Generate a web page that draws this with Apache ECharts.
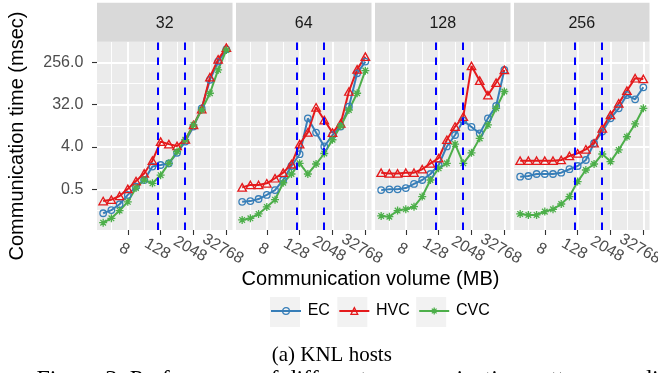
<!DOCTYPE html>
<html>
<head>
<meta charset="utf-8">
<script src="https://cdn.jsdelivr.net/npm/echarts@6/dist/echarts.min.js"></script>
<style>
  html, body { margin: 0; padding: 0; background: #ffffff; }
  #chart { width: 658px; height: 373px; }
</style>
</head>
<body>
<div id="chart"></div>
<script>
// Communication volume (MB) of each measured point
const volumeMB = [1, 2, 4, 8, 16, 32, 64, 128, 256, 512, 1024, 2048, 4096, 8192, 16384, 32768];
const hostCounts = [32, 64, 128, 256];
const volumeTicks = [8, 128, 2048, 32768];
const timeTicks = [0.5, 4, 32, 256];
const thresholdMB = [100, 1000];
const strategyNames = ['EC', 'HVC', 'CVC'];

// Communication time (msec) for 32 hosts
const ec32  = [0.154, 0.18, 0.24, 0.38, 0.57, 0.79, 1.53, 1.65, 1.79, 3.0, 5.2, 10.9, 26.7, 108, 265, 484];
const hvc32 = [0.28, 0.30, 0.36, 0.51, 0.75, 1.09, 2.04, 5.2, 4.6, 4.2, 5.8, 11.8, 25.8, 123, 296, 526];
const cvc32 = [0.097, 0.12, 0.176, 0.27, 0.53, 0.79, 0.67, 1.0, 1.79, 3.2, 5.7, 11.8, 24.6, 56, 176, 468];

// Communication time (msec) for 64 hosts
const ec64  = [0.27, 0.28, 0.31, 0.38, 0.48, 0.79, 1.57, 2.8, 16.3, 8.1, 4.1, 7.2, 10.9, 29, 149, 265];
const hvc64 = [0.55, 0.62, 0.62, 0.67, 0.86, 1.13, 1.73, 4.6, 8.2, 28.1, 15.0, 8.1, 12.8, 61, 181, 338];
const cvc64 = [0.111, 0.12, 0.149, 0.21, 0.30, 0.69, 1.06, 1.79, 1.06, 1.73, 2.9, 5.7, 11.2, 24.6, 56, 170];

// Communication time (msec) for 128 hosts
const ec128  = [0.48, 0.5, 0.5, 0.53, 0.65, 0.79, 1.06, 1.65, 4.1, 7.2, 14.6, 10.7, 7.8, 16.3, 30, 176];
const hvc128 = [1.13, 1.09, 1.09, 1.13, 1.13, 1.34, 1.79, 2.3, 5.7, 10.9, 17.8, 214, 104, 51, 94, 176];
const cvc128 = [0.135, 0.13, 0.176, 0.187, 0.213, 0.35, 0.79, 1.4, 1.79, 4.6, 1.79, 3.0, 6.1, 11.8, 26.7, 61];

// Communication time (msec) for 256 hosts
const ec256  = [0.93, 0.96, 1.06, 1.06, 1.06, 1.13, 1.34, 1.57, 2.11, 4.8, 8.5, 16.3, 26.7, 51.3, 41.6, 75];
const hvc256 = [2.04, 2.04, 2.04, 2.04, 2.04, 2.11, 2.57, 2.93, 3.56, 4.8, 10.0, 19.3, 34.1, 63.6, 117, 113];
const cvc256 = [0.149, 0.142, 0.142, 0.167, 0.187, 0.243, 0.35, 0.73, 1.29, 1.73, 2.83, 1.95, 3.46, 6.6, 12.4, 26.7];

const panelSeries = [
  [ec32, hvc32, cvc32],
  [ec64, hvc64, cvc64],
  [ec128, hvc128, cvc128],
  [ec256, hvc256, cvc256]
];

// ---- layout and style ----
const FONT = '"Liberation Sans", Arial, Helvetica, sans-serif';
const SERIF = '"Liberation Serif", "Times New Roman", serif';
const PANEL_LEFT = 97, PANEL_STEP = 139, PANEL_W = 135.5;
const PANEL_TOP = 41.7, PANEL_H = 188.3, STRIP_TOP = 2.7;
// both axes are log2 scales
const X_MIN = -0.75, X_MAX = 15.75;
const Y_MIN = -3.885, Y_MAX = 9.46;

const COLORS = ['#377EB8', '#E41A1C', '#4DAF4A'];
const ASTERISK = 'path://M0,-10L0,10M-10,0L10,0M-7,-7L7,7M-7,7L7,-7';
const SYMBOLS = [
  { symbol: 'circle', size: 6.5, fill: 'rgba(0,0,0,0)' },
  { symbol: 'triangle', size: [8.5, 7.5], fill: 'rgba(0,0,0,0)' },
  { symbol: ASTERISK, size: 8, fill: null }
];

const xMajor = volumeTicks.map(Math.log2);
const xMinor = xMajor.map(v => v - 2);
const yMajor = timeTicks.map(Math.log2);
const yMinor = yMajor.map(v => v - 1.5);

const hiddenLine = { show: false, onZero: false };
const grids = [], xAxes = [], yAxes = [], series = [], graphics = [];

hostCounts.forEach((hosts, i) => {
  const left = PANEL_LEFT + i * PANEL_STEP;
  grids.push({
    left: left, top: PANEL_TOP, width: PANEL_W, height: PANEL_H,
    show: true, backgroundColor: '#EBEBEB', borderWidth: 0,
    containLabel: false, outerBoundsMode: 'none'
  });

  // major x grid, ticks and labels
  xAxes.push({
    gridIndex: i, type: 'value', position: 'bottom', min: X_MIN, max: X_MAX,
    axisLine: hiddenLine,
    axisTick: { show: true, customValues: xMajor, length: 5, lineStyle: { color: '#333333', width: 1.1 } },
    axisLabel: {
      show: true, customValues: xMajor,
      formatter: v => String(Math.round(Math.pow(2, v))),
      rotate: -30, align: 'center', verticalAlign: 'middle',
      margin: 21, padding: [4.5, 7.8, 0, 0],
      color: '#4D4D4D', fontSize: 16, fontFamily: FONT
    },
    splitLine: { show: true, lineStyle: { color: '#FFFFFF', width: 1.9 } }
  });
  // minor x grid
  xAxes.push({
    gridIndex: i, type: 'value', position: 'bottom', min: X_MIN, max: X_MAX,
    axisLine: hiddenLine,
    axisTick: { show: false, customValues: xMinor },
    axisLabel: { show: false },
    splitLine: { show: true, lineStyle: { color: '#FFFFFF', width: 0.95 } }
  });

  // major y grid, ticks and labels (labels only on the first panel)
  yAxes.push({
    gridIndex: i, type: 'value', position: 'left', min: Y_MIN, max: Y_MAX,
    axisLine: hiddenLine,
    axisTick: { show: i === 0, customValues: yMajor, length: 5, lineStyle: { color: '#333333', width: 1.1 } },
    axisLabel: {
      show: i === 0, customValues: yMajor,
      formatter: v => Math.pow(2, v).toFixed(1),
      margin: 13.7, color: '#4D4D4D', fontSize: 16, fontFamily: FONT
    },
    splitLine: { show: true, lineStyle: { color: '#FFFFFF', width: 1.9 } }
  });
  // minor y grid
  yAxes.push({
    gridIndex: i, type: 'value', position: 'left', min: Y_MIN, max: Y_MAX,
    axisLine: hiddenLine,
    axisTick: { show: false, customValues: yMinor },
    axisLabel: { show: false },
    splitLine: { show: true, lineStyle: { color: '#FFFFFF', width: 0.95 } }
  });

  panelSeries[i].forEach((times, k) => {
    const sym = SYMBOLS[k];
    const s = {
      name: strategyNames[k],
      type: 'line',
      xAxisIndex: 2 * i, yAxisIndex: 2 * i,
      data: volumeMB.map((v, j) => [Math.log2(v), Math.log2(times[j])]),
      symbol: sym.symbol, symbolSize: sym.size,
      showSymbol: true, clip: false,
      color: COLORS[k],
      lineStyle: { color: COLORS[k], width: 2 },
      itemStyle: { color: sym.fill || COLORS[k], borderColor: COLORS[k], borderWidth: 1.3 },
      emphasis: { disabled: true },
      animation: false, silent: true
    };
    if (k === 2) {
      s.markLine = {
        silent: true, symbol: ['none', 'none'], animation: false,
        label: { show: false },
        lineStyle: { color: '#0000FF', width: 2, type: [7.5, 7.5] },
        emphasis: { disabled: true },
        data: thresholdMB.map(t => ({ xAxis: Math.log2(t) }))
      };
    }
    series.push(s);
  });

  // facet strip
  graphics.push({
    type: 'rect', z: 1,
    shape: { x: left, y: STRIP_TOP, width: PANEL_W, height: PANEL_TOP - STRIP_TOP },
    style: { fill: '#D9D9D9' }
  });
  graphics.push({
    type: 'text', z: 2, x: left + PANEL_W / 2, y: 23.5,
    style: { text: String(hosts), font: '16px ' + FONT, fill: '#1A1A1A', align: 'center', verticalAlign: 'middle' }
  });
});

// legend key backgrounds
[270, 337.3, 416.2].forEach(x => {
  graphics.push({ type: 'rect', z: 0, shape: { x: x, y: 297, width: 30, height: 30 }, style: { fill: '#F2F2F2' } });
});

// axis titles and caption
graphics.push({
  type: 'text', z: 2, x: 17, y: 136, rotation: Math.PI / 2,
  style: { text: 'Communication time (msec)', font: '20px ' + FONT, fill: '#000000', align: 'center', verticalAlign: 'middle' }
});
graphics.push({
  type: 'text', z: 2, x: 370.5, y: 279,
  style: { text: 'Communication volume (MB)', font: '20px ' + FONT, fill: '#000000', align: 'center', verticalAlign: 'middle' }
});
graphics.push({
  type: 'text', z: 2, x: 271.7, y: 355,
  style: { text: '(a) KNL hosts', font: '21px ' + SERIF, fill: '#000000', align: 'left', verticalAlign: 'middle' }
});
graphics.push({
  type: 'text', z: 2, x: 36.5, y: 379.5,
  style: { text: 'Figure 3: Performance of different communication patterns on different', font: '24px ' + SERIF, fill: '#000000', align: 'left', verticalAlign: 'middle' }
});

const chart = echarts.init(document.getElementById('chart'), null, { renderer: 'canvas' });
chart.setOption({
  animation: false,
  backgroundColor: '#FFFFFF',
  grid: grids,
  xAxis: xAxes,
  yAxis: yAxes,
  series: series,
  legend: {
    data: strategyNames,
    left: 270, top: 303, padding: 0,
    itemWidth: 30, itemHeight: 8.5, itemGap: 8.4,
    selectedMode: false,
    textStyle: { fontSize: 16, color: '#000000', fontFamily: FONT, padding: [0, 0, 0, 1.7] },
    itemStyle: { borderWidth: 1.3 },
    lineStyle: { width: 2 }
  },
  graphic: { elements: graphics }
});
</script>
</body>
</html>
